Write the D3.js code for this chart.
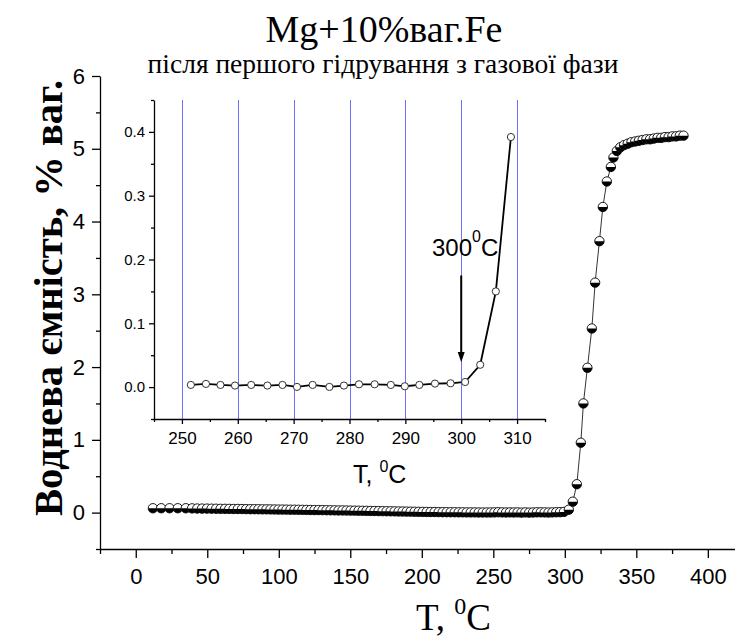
<!DOCTYPE html>
<html>
<head>
<meta charset="utf-8">
<script src="https://cdn.jsdelivr.net/npm/d3@7"></script>
<style>
  body { margin: 0; background: #fff; }
  .canvas svg { display: block; }
  .sans { font-family: "Liberation Sans", Arial, sans-serif; }
  .serif { font-family: "Liberation Serif", "Times New Roman", serif; }
</style>
</head>
<body>
<div class="canvas"></div>
<script>
// main series: temperature (C) and hydrogen content (wt %)
const mainT = [
  12.0, 17.8, 23.6, 29.4, 35.0, 39.4, 43.0, 46.4, 49.8, 53.0,
  56.2, 59.3, 62.4, 65.4, 68.4, 71.4, 74.3, 77.2, 80.1, 83.0,
  85.8, 88.6, 91.4, 94.2, 97.0, 99.8, 102.6, 105.4, 108.2, 111.0,
  113.8, 116.6, 119.4, 122.2, 125.0, 127.8, 130.6, 133.4, 136.2, 139.0,
  141.8, 144.6, 147.4, 150.2, 153.0, 155.8, 158.6, 161.4, 164.2, 167.0,
  169.8, 172.6, 175.4, 178.2, 181.0, 183.8, 186.6, 189.4, 192.2, 195.0,
  197.8, 200.6, 203.4, 206.2, 209.0, 211.8, 214.6, 217.4, 220.2, 223.0,
  225.8, 228.6, 231.4, 234.2, 237.0, 239.8, 242.6, 245.4, 248.1, 250.8,
  253.5, 256.2, 258.9, 261.6, 264.3, 267.0, 269.7, 272.4, 275.1, 277.8,
  280.5, 283.2, 285.9, 288.6, 291.3, 294.0, 296.7, 299.4, 302.8, 305.6,
  308.4, 311.2, 313.0, 315.8, 318.9, 321.2, 324.2, 326.6, 329.4, 332.2,
  334.0, 336.4, 338.8, 341.4, 344.0, 346.6, 349.2, 351.8, 354.4, 357.0,
  359.6, 362.2, 364.8, 367.4, 370.0, 372.6, 375.2, 377.8, 380.4, 383.0
];
const mainH = [
  0.06, 0.06, 0.06, 0.06, 0.06, 0.058, 0.056, 0.055, 0.055, 0.054,
  0.053, 0.052, 0.052, 0.051, 0.050, 0.050, 0.049, 0.048, 0.047, 0.047,
  0.046, 0.045, 0.045, 0.044, 0.043, 0.042, 0.042, 0.041, 0.040, 0.040,
  0.039, 0.038, 0.037, 0.036, 0.035, 0.035, 0.034, 0.033, 0.032, 0.031,
  0.030, 0.030, 0.029, 0.028, 0.027, 0.026, 0.025, 0.024, 0.023, 0.022,
  0.021, 0.020, 0.019, 0.018, 0.017, 0.016, 0.015, 0.014, 0.013, 0.012,
  0.011, 0.010, 0.009, 0.008, 0.008, 0.007, 0.006, 0.006, 0.005, 0.005,
  0.004, 0.004, 0.003, 0.003, 0.003, 0.002, 0.002, 0.002, 0.002, 0.003,
  0.005, 0.003, 0.002, 0.003, 0.002, 0.003, 0.000, 0.003, 0.000, 0.002,
  0.004, 0.004, 0.003, 0.001, 0.003, 0.005, 0.006, 0.010, 0.04, 0.15,
  0.39, 0.96, 1.50, 1.99, 2.53, 3.16, 3.73, 4.20, 4.55, 4.75,
  4.88, 4.97, 5.02, 5.05, 5.07, 5.09, 5.10, 5.11, 5.12, 5.13,
  5.13, 5.14, 5.15, 5.15, 5.16, 5.16, 5.17, 5.17, 5.18, 5.18
];

// inset series (250-310 C)
const insetT = [
  251.6, 254.3, 256.9, 259.5, 262.4, 265.3, 268.0, 270.6, 273.4, 276.4,
  279.0, 281.7, 284.5, 287.4, 289.9, 292.5, 295.3, 298.1, 300.7, 303.4,
  306.2, 308.9
];
const insetH = [
  0.0034, 0.0050, 0.0034, 0.0024, 0.0034, 0.0024, 0.0034, 0.0003, 0.0034, 0.0003,
  0.0024, 0.0044, 0.0044, 0.0034, 0.0013, 0.0034, 0.0055, 0.0060, 0.0080, 0.0350,
  0.1500, 0.3920
];

// tick values
const mainXTicks = [0, 50, 100, 150, 200, 250, 300, 350, 400];
const mainXMinor = [-25, 25, 75, 125, 175, 225, 275, 325, 375];
const mainYTicks = [0, 1, 2, 3, 4, 5, 6];
const mainYMinor = [-0.5, 0.5, 1.5, 2.5, 3.5, 4.5, 5.5];
const insetXTicks = [250, 260, 270, 280, 290, 300, 310];
const insetXMinor = [245, 255, 265, 275, 285, 295, 305, 315];
const insetYTicks = [0, 0.1, 0.2, 0.3, 0.4];
const insetYMinor = [-0.05, 0.05, 0.15, 0.25, 0.35, 0.45];

const dims = { width: 735, height: 637 };

const svg = d3.select('.canvas').append('svg')
  .attr('width', dims.width)
  .attr('height', dims.height);

// scales
const x = d3.scaleLinear().domain([-25, 419]).range([100, 735]);
const y = d3.scaleLinear().domain([-0.5, 6]).range([549, 76]);
const xi = d3.scaleLinear().domain([245, 315]).range([154, 545]);
const yi = d3.scaleLinear().domain([-0.05, 0.45]).range([419, 100]);

// titles
svg.append('text').attr('class', 'serif')
  .attr('x', 384).attr('y', 42)
  .attr('text-anchor', 'middle')
  .attr('font-size', 38)
  .text('Mg+10%ваг.Fe');

svg.append('text').attr('class', 'serif')
  .attr('x', 383).attr('y', 73)
  .attr('text-anchor', 'middle')
  .attr('font-size', 27.5)
  .text('після першого гідрування з газової фази');

// axes helper
const styleAxis = (g, fs) => {
  g.selectAll('path, line').attr('stroke', '#000').attr('stroke-width', 1.3);
  g.selectAll('text').attr('class', 'sans').attr('fill', '#000').attr('font-size', fs);
};

// main axes
svg.append('g').attr('transform', `translate(0, ${y(-0.5)})`)
  .call(d3.axisBottom(x).tickValues(mainXTicks).tickSize(9).tickSizeOuter(0).tickPadding(7)
    .tickFormat(d3.format('d')))
  .call(g => styleAxis(g, 22))
  .call(g => g.selectAll('text').attr('dy', '0.85em'));
svg.append('g').attr('transform', `translate(0, ${y(-0.5)})`)
  .call(d3.axisBottom(x).tickValues(mainXMinor).tickSize(5).tickFormat(''))
  .call(g => g.select('.domain').remove())
  .call(g => styleAxis(g, 22));

svg.append('g').attr('transform', `translate(${x(-25)}, 0)`)
  .call(d3.axisLeft(y).tickValues(mainYTicks).tickSize(8).tickSizeOuter(0).tickPadding(7)
    .tickFormat(d3.format('d')))
  .call(g => styleAxis(g, 22));
svg.append('g').attr('transform', `translate(${x(-25)}, 0)`)
  .call(d3.axisLeft(y).tickValues(mainYMinor).tickSize(4).tickFormat(''))
  .call(g => g.select('.domain').remove())
  .call(g => styleAxis(g, 22));

// main axis titles
svg.append('text').attr('class', 'serif')
  .attr('transform', `translate(62, ${y(2.95)}) rotate(-90)`)
  .attr('text-anchor', 'middle')
  .attr('font-size', 40)
  .attr('font-weight', 'bold')
  .attr('textLength', 436)
  .attr('lengthAdjust', 'spacingAndGlyphs')
  .text('Воднева ємність, % ваг.');

const xt = svg.append('text').attr('class', 'serif')
  .attr('x', 416).attr('y', 630)
  .attr('font-size', 37);
xt.append('tspan').text('T, ');
xt.append('tspan').attr('font-size', 24).attr('dy', -16).text('0');
xt.append('tspan').attr('dy', 16).text('C');

// main series
const mainData = mainT.map((t, i) => ({ t, h: mainH[i] }));

svg.append('path')
  .datum(mainData)
  .attr('fill', 'none')
  .attr('stroke', '#000')
  .attr('stroke-width', 0.8)
  .attr('d', d3.line().x(d => x(d.t)).y(d => y(d.h)));

// half-filled circle markers (white top, black bottom)
const r = 4.7;
const halfArc = d3.arc().innerRadius(0).outerRadius(r)
  .startAngle(Math.PI / 2).endAngle(Math.PI * 3 / 2);

const markers = svg.append('g').selectAll('g')
  .data(mainData)
  .enter().append('g')
  .attr('transform', d => `translate(${x(d.t)}, ${y(d.h)})`);
markers.append('circle')
  .attr('r', r)
  .attr('fill', '#fff')
  .attr('stroke', '#000')
  .attr('stroke-width', 0.9);
markers.append('path')
  .attr('d', halfArc)
  .attr('fill', '#000');

// inset: vertical grid lines
const inset = svg.append('g');
inset.selectAll('line.grid')
  .data(insetXTicks)
  .enter().append('line')
  .attr('class', 'grid')
  .attr('x1', d => Math.round(xi(d)) + 0.5).attr('x2', d => Math.round(xi(d)) + 0.5)
  .attr('y1', yi(0.45)).attr('y2', yi(-0.05))
  .attr('stroke', '#7070ff')
  .attr('stroke-width', 1);

// inset axes
inset.append('g').attr('transform', `translate(0, ${yi(-0.05)})`)
  .call(d3.axisBottom(xi).tickValues(insetXTicks).tickSize(5).tickSizeOuter(0).tickPadding(6)
    .tickFormat(d3.format('d')))
  .call(g => styleAxis(g, 17))
  .call(g => g.selectAll('text').attr('dy', '0.8em'));
inset.append('g').attr('transform', `translate(0, ${yi(-0.05)})`)
  .call(d3.axisBottom(xi).tickValues(insetXMinor).tickSize(3).tickFormat(''))
  .call(g => g.select('.domain').remove())
  .call(g => styleAxis(g, 17));

inset.append('g').attr('transform', `translate(${xi(245)}, 0)`)
  .call(d3.axisLeft(yi).tickValues(insetYTicks).tickSize(5).tickSizeOuter(0).tickPadding(4)
    .tickFormat(d3.format('.1f')))
  .call(g => styleAxis(g, 15));
inset.append('g').attr('transform', `translate(${xi(245)}, 0)`)
  .call(d3.axisLeft(yi).tickValues(insetYMinor).tickSize(3).tickFormat(''))
  .call(g => g.select('.domain').remove())
  .call(g => styleAxis(g, 15));

const it = inset.append('text').attr('class', 'sans')
  .attr('x', 353).attr('y', 483)
  .attr('font-size', 25);
it.append('tspan').text('T, ');
it.append('tspan').attr('font-size', 16).attr('dy', -11).text('0');
it.append('tspan').attr('dy', 11).text('C');

// inset series
const insetData = insetT.map((t, i) => ({ t, h: insetH[i] }));

inset.append('path')
  .datum(insetData)
  .attr('fill', 'none')
  .attr('stroke', '#000')
  .attr('stroke-width', 1.8)
  .attr('d', d3.line().x(d => xi(d.t)).y(d => yi(d.h)));

inset.selectAll('circle.pt')
  .data(insetData)
  .enter().append('circle')
  .attr('class', 'pt')
  .attr('cx', d => xi(d.t))
  .attr('cy', d => yi(d.h))
  .attr('r', 3.6)
  .attr('fill', '#fff')
  .attr('stroke', '#333')
  .attr('stroke-width', 1);

// annotation: onset at 300 C
const ann = inset.append('text').attr('class', 'sans')
  .attr('x', 432).attr('y', 256)
  .attr('font-size', 24);
ann.append('tspan').text('300');
ann.append('tspan').attr('font-size', 16).attr('dy', -14).text('0');
ann.append('tspan').attr('dy', 14).text('C');

inset.append('line')
  .attr('x1', xi(300)).attr('x2', xi(300))
  .attr('y1', yi(0.175)).attr('y2', yi(0.05))
  .attr('stroke', '#000')
  .attr('stroke-width', 2);
inset.append('path')
  .attr('d', `M${xi(300) - 3.5},${yi(0.055)} L${xi(300) + 3.5},${yi(0.055)} L${xi(300)},${yi(0.039)} Z`)
  .attr('fill', '#000');
</script>
</body>
</html>
